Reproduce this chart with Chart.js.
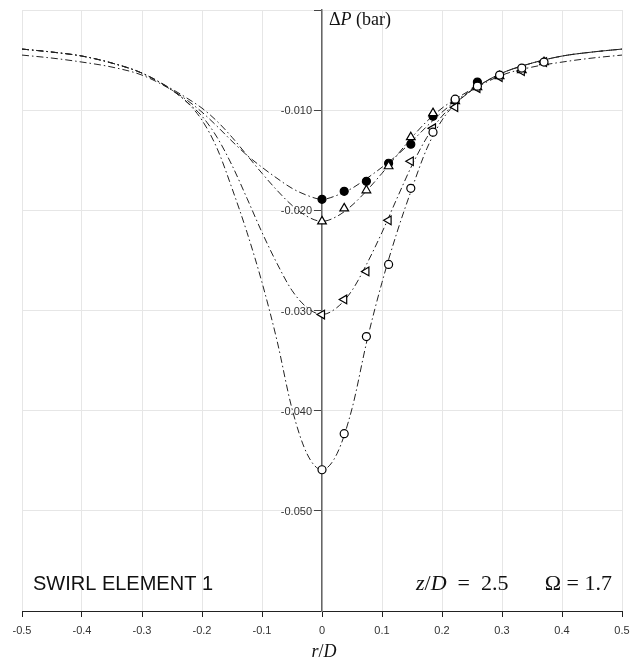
<!DOCTYPE html>
<html>
<head>
<meta charset="utf-8">
<script src="https://cdn.jsdelivr.net/npm/chart.js@4"></script>
<style>
  body { margin: 0; background: #fff; }
  #wrap { width: 633px; height: 670px; }
</style>
</head>
<body>
<div id="wrap"><canvas id="chart" width="633" height="670"></canvas></div>
<script>
// ── DATI ─────────────────────────────────────
// r/D dove sono state fatte le misure
const markX = [0, 0.037, 0.074, 0.111, 0.148, 0.185, 0.222, 0.259, 0.296, 0.333, 0.370];

// misure (bar)
const dotFilled = [-0.0189, -0.0181, -0.0171, -0.0153, -0.0134, -0.0106, -0.0090, -0.0072];
const triUp     = [-0.0211, -0.0198, -0.0180, -0.0156, -0.0127, -0.0103, -0.0091, -0.0077, -0.0066, -0.0060, -0.0052];
const triLeft   = [-0.0304, -0.0289, -0.0261, -0.0210, -0.0151, -0.0118, -0.0097, -0.0078, -0.0067, -0.0061, -0.0052];
const dotOpen   = [-0.0459, -0.0423, -0.0326, -0.0254, -0.0178, -0.0122, -0.0089, -0.0076, -0.0065, -0.0058, -0.0052];

// curve di fit
const curveX = [-0.5, -0.45, -0.4, -0.35, -0.3, -0.25, -0.225, -0.2, -0.175, -0.15, -0.125, -0.1, -0.075, -0.05, -0.025,
                0, 0.025, 0.05, 0.075, 0.1, 0.125, 0.15, 0.175, 0.2, 0.225, 0.25, 0.3, 0.35, 0.4, 0.45, 0.5];
const fitA = [-0.0045, -0.0048, -0.0052, -0.0057, -0.0065, -0.0080, -0.0090, -0.0102, -0.0116, -0.0131, -0.0145, -0.0157, -0.0168, -0.0178, -0.0185,
              -0.0189, -0.0185, -0.0178, -0.0168, -0.0157, -0.0145, -0.0131, -0.0116, -0.0102, -0.0090, -0.0080, -0.0065, -0.0057, -0.0052, -0.0048, -0.0045];
const fitB = [-0.0039, -0.0042, -0.0046, -0.0053, -0.0063, -0.0079, -0.0088, -0.0098, -0.0111, -0.0127, -0.0145, -0.0163, -0.0180, -0.0195, -0.0206,
              -0.0211, -0.0206, -0.0195, -0.0180, -0.0163, -0.0145, -0.0127, -0.0111, -0.0098, -0.0088, -0.0079, -0.0063, -0.0053, -0.0046, -0.0042, -0.0039];
const fitC = [-0.0039, -0.0042, -0.0046, -0.0053, -0.0063, -0.0080, -0.0092, -0.0106, -0.0127, -0.0155, -0.0188, -0.0222, -0.0253, -0.0280, -0.0297,
              -0.0304, -0.0297, -0.0280, -0.0253, -0.0222, -0.0188, -0.0155, -0.0127, -0.0106, -0.0092, -0.0080, -0.0063, -0.0053, -0.0046, -0.0042, -0.0039];
const fitD = [-0.0039, -0.0042, -0.0046, -0.0053, -0.0063, -0.0080, -0.0092, -0.0110, -0.0138, -0.0178, -0.0222, -0.0272, -0.0330, -0.0398, -0.0443,
              -0.0459, -0.0443, -0.0398, -0.0330, -0.0272, -0.0222, -0.0178, -0.0138, -0.0110, -0.0092, -0.0080, -0.0063, -0.0053, -0.0046, -0.0042, -0.0039];

const xTicks = [-0.5, -0.4, -0.3, -0.2, -0.1, 0, 0.1, 0.2, 0.3, 0.4, 0.5];
const yTicks = [-0.010, -0.020, -0.030, -0.040, -0.050];

const SERIF = '"Liberation Serif", "DejaVu Serif", serif';
const SANS  = '"Liberation Sans", Arial, sans-serif';

function pts(xs, ys) { return ys.map((y, i) => ({ x: xs[i], y })); }

function curve(ys) {
  return {
    data: pts(curveX, ys),
    showLine: true,
    borderColor: '#222',
    borderWidth: 1,
    borderDash: [7, 3, 1.5, 3],
    pointRadius: 0,
    cubicInterpolationMode: 'monotone',
    order: 5
  };
}

function marks(ys, style, opts) {
  return Object.assign({
    data: pts(markX, ys),
    showLine: false,
    pointStyle: style,
    pointRadius: 4,
    pointBorderColor: '#000',
    pointBackgroundColor: '#fff',
    pointBorderWidth: 1.2,
    order: 1
  }, opts || {});
}

// testo con pezzi in corsivo
function drawRuns(ctx, runs, x, y, size) {
  runs.forEach(([t, it]) => {
    ctx.font = `${it ? 'italic ' : ''}${size}px ${SERIF}`;
    ctx.fillText(t, x, y);
    x += ctx.measureText(t).width;
  });
}
function runsWidth(ctx, runs, size) {
  return runs.reduce((w, [t, it]) => {
    ctx.font = `${it ? 'italic ' : ''}${size}px ${SERIF}`;
    return w + ctx.measureText(t).width;
  }, 0);
}

const labels = {
  id: 'labels',
  afterDraw(chart) {
    const { ctx, scales: { x, y } } = chart;
    const x0 = x.getPixelForValue(0);
    ctx.save();

    // etichette asse y, a sinistra dell'asse
    ctx.fillStyle = '#333';
    ctx.font = `11px ${SANS}`;
    ctx.textAlign = 'right';
    ctx.textBaseline = 'middle';
    yTicks.forEach(v => ctx.fillText(v.toFixed(3), x0 - 10, y.getPixelForValue(v) + 1));

    ctx.fillStyle = '#111';
    ctx.textAlign = 'left';
    ctx.textBaseline = 'alphabetic';
    drawRuns(ctx, [['Δ', 0], ['P', 1], [' (bar)', 0]], x0 + 7, y.top + 15, 18);

    ctx.font = `20px ${SANS}`;
    ctx.fillText('SWIRL ELEMENT 1', x.left + 11, y.bottom - 21);

    const zRuns = [['z', 1], ['/', 0], ['D', 1], ['\u2002=\u20022.5', 0]];
    drawRuns(ctx, zRuns, x0 + 94, y.bottom - 21, 22);
    const oRuns = [['Ω = 1.7', 0]];
    const ow = runsWidth(ctx, oRuns, 22);
    drawRuns(ctx, oRuns, x.right - 10 - ow, y.bottom - 21, 22);

    const rRuns = [['r', 1], ['/', 0], ['D', 1]];
    const rw = runsWidth(ctx, rRuns, 18);
    drawRuns(ctx, rRuns, x0 - rw / 2 + 2, y.bottom + 46, 18);
    ctx.restore();
  }
};

new Chart(document.getElementById('chart'), {
  type: 'scatter',
  data: {
    datasets: [
      marks(dotOpen, 'circle', { order: 1 }),
      marks(triLeft, 'triangle', { rotation: -90, pointRadius: 5, order: 2 }),
      marks(triUp, 'triangle', { pointRadius: 5, order: 3 }),
      marks(dotFilled, 'circle', { pointBackgroundColor: '#000', order: 4 }),
      curve(fitA), curve(fitB), curve(fitC), curve(fitD)
    ]
  },
  options: {
    responsive: false,
    animation: false,
    layout: { padding: { left: 22, right: 11, top: 10, bottom: 0 } },
    plugins: { legend: { display: false }, tooltip: { enabled: false } },
    scales: {
      x: {
        type: 'linear',
        min: -0.5, max: 0.5,
        afterFit: s => { s.height = 59; s.paddingLeft = 0; s.paddingRight = 0; },
        afterBuildTicks: s => { s.ticks = xTicks.map(v => ({ value: v })); },
        ticks: {
          color: '#333',
          font: { family: SANS, size: 11 },
          padding: 7,
          maxRotation: 0,
          callback: v => Math.abs(v) < 1e-9 ? '0' : v.toFixed(1)
        },
        grid: { color: '#e6e6e6', tickColor: '#222', tickLength: 6 },
        border: { color: '#222', width: 1 }
      },
      y: {
        type: 'linear',
        position: { x: 0 },
        min: -0.06, max: 0,
        afterFit: s => { s.paddingTop = 0; s.paddingBottom = 0; },
        afterBuildTicks: s => { s.ticks = [0].concat(yTicks, [-0.06]).map(v => ({ value: v })); },
        ticks: { display: false },
        grid: { color: '#e6e6e6', tickColor: '#444', tickLength: 7 },
        border: { color: '#666', width: 1.5 }
      }
    }
  },
  plugins: [labels]
});
</script>
</body>
</html>
